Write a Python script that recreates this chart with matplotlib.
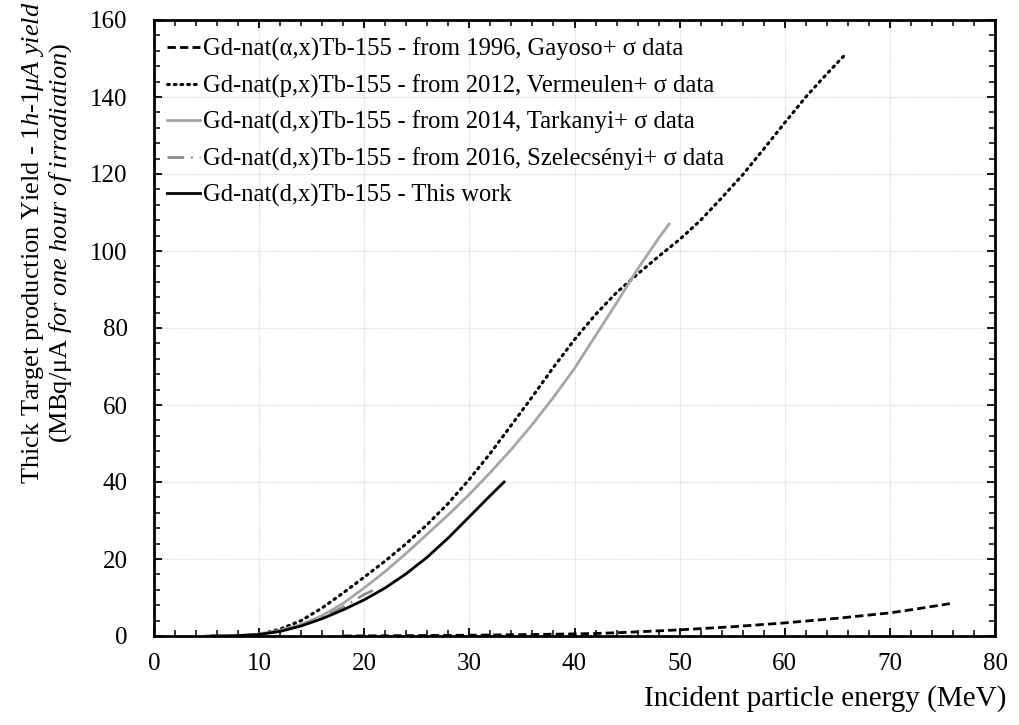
import matplotlib
matplotlib.use("Agg")
import matplotlib.pyplot as plt
from matplotlib.ticker import MultipleLocator

plt.rcParams['font.family'] = ['Liberation Serif', 'DejaVu Serif']
plt.rcParams['mathtext.fontset'] = 'custom'
plt.rcParams['mathtext.rm'] = 'Liberation Serif'
plt.rcParams['mathtext.it'] = 'Liberation Serif:italic'

# ---- data ----
gayoso_x = [18, 25, 30, 35, 40, 42, 45, 50, 55, 60, 65, 70, 72, 75.7]
gayoso_y = [0, 0.1, 0.2, 0.35, 0.55, 0.65, 0.95, 1.6, 2.4, 3.4, 4.6, 6.0, 6.8, 8.4]

verm_x = [9, 10, 12, 14, 16, 18, 20, 22, 24, 26, 28, 30, 32, 34, 36, 38, 40, 42, 44, 46,
          48, 50, 52, 54, 56, 58, 60, 62, 64, 65.6]
verm_y = [0, 0.4, 1.8, 4.0, 7.3, 11.2, 15.3, 19.5, 24.0, 29.0, 34.5, 40.7, 47.5, 54.8,
          62.2, 69.8, 77.0, 83.5, 89.2, 94.0, 98.6, 103.0, 108.0, 113.8, 119.8, 126.5,
          133.3, 140.0, 146.0, 150.6]

tark_x = [8, 10, 12, 14, 16, 18, 20, 22, 24, 26, 28, 30, 32, 34, 36, 38, 40, 42, 44, 46, 48, 49]
tark_y = [0, 0.5, 1.5, 3.0, 5.3, 8.5, 12.5, 16.8, 21.5, 26.5, 31.5, 36.8, 42.5, 48.5,
          55.0, 62.0, 69.5, 78.0, 86.5, 95.3, 103.3, 107.0]

szel_x = [4.8, 8, 10, 12, 14, 16, 18, 20, 21.2]
szel_y = [0, 0.1, 0.4, 1.3, 2.8, 4.8, 7.5, 10.8, 12.3]

work_x = [5.5, 8, 10, 12, 14, 16, 18, 20, 22, 24, 26, 28, 30, 32, 33.3]
work_y = [0, 0.1, 0.4, 1.2, 2.6, 4.5, 6.8, 9.4, 12.5, 16.2, 20.5, 25.5, 31.0, 36.5, 40.0]

labels = [
    "Gd-nat(α,x)Tb-155 - from 1996, Gayoso+ σ data",
    "Gd-nat(p,x)Tb-155 - from 2012, Vermeulen+ σ data",
    "Gd-nat(d,x)Tb-155 - from 2014, Tarkanyi+ σ data",
    "Gd-nat(d,x)Tb-155 - from 2016, Szelecsényi+ σ data",
    "Gd-nat(d,x)Tb-155 - This work",
]

W, H = 1019, 725
fig = plt.figure(figsize=(W / 100, H / 100), dpi=100)
ax = fig.add_axes([154 / W, 1 - 636 / H, (995 - 154) / W, (636 - 20) / H])

ax.plot(gayoso_x, gayoso_y, color='black', lw=2.0, linestyle=(0, (3, 1.5)), label=labels[0])
ax.plot(verm_x, verm_y, color='black', lw=2.2, linestyle=(0, (0.6, 1.6)),
        dash_capstyle='round', label=labels[1])
ax.plot(tark_x, tark_y, color='#a6a6a6', lw=2.0, label=labels[2])
ax.plot(szel_x, szel_y, color='#8c8c8c', lw=2.0, linestyle=(0, (6, 2.5, 0.6, 2.5)), label=labels[3])
ax.plot(work_x, work_y, color='black', lw=2.0, label=labels[4])

ax.set_xlim(0, 80)
ax.set_ylim(0, 160)
ax.xaxis.set_major_locator(MultipleLocator(10))
ax.xaxis.set_minor_locator(MultipleLocator(2))
ax.yaxis.set_major_locator(MultipleLocator(20))
ax.yaxis.set_minor_locator(MultipleLocator(4))

ax.grid(True, which='major', color='#d8d8d8', linestyle=(0, (1, 1)), lw=0.9)
ax.set_axisbelow(True)

for s in ax.spines.values():
    s.set_linewidth(2.0)
    s.set_color('black')

ax.tick_params(which='both', direction='in', top=True, right=True, color='black')
ax.tick_params(which='major', length=6, width=1.3, labelsize=18)
ax.tick_params(which='minor', length=4, width=1.1)
ax.tick_params(axis='x', which='major', pad=12)
ax.tick_params(axis='y', which='major', pad=19)

leg = ax.legend(loc='upper left', bbox_to_anchor=(167 / W, 1 - 38 / H),
                bbox_transform=fig.transFigure, frameon=False, fontsize=17.7,
                handlelength=1.36, handletextpad=0.12, labelspacing=0.53,
                borderaxespad=0, borderpad=0)

fig.text(1006 / W, 1 - 699 / H, "Incident particle energy (MeV)", ha='right', va='center',
         fontsize=21)

ylab = ("Thick Target production Yield - $\\mathit{1h}$-$\\mathit{1μA\\ yield}$\n"
        "(MBq/μA $\\mathit{for\\ one\\ hour\\ of\\ irradiation}$)")
fig.text(47 / W, 1 - 243 / H, ylab, rotation=90, ha='center', va='center',
         multialignment='center', fontsize=19, linespacing=1.1)

fig.savefig("out.png", dpi=100)
